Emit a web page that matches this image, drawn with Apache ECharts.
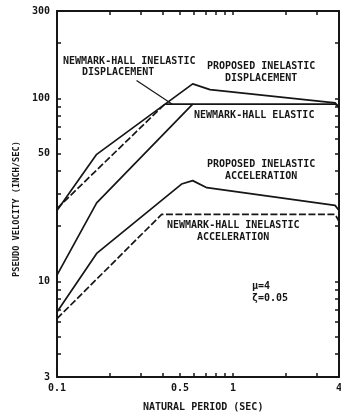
<!DOCTYPE html>
<html>
<head>
<meta charset="utf-8">
<script src="https://cdn.jsdelivr.net/npm/echarts@6/dist/echarts.min.js"></script>
<style>
html,body{margin:0;padding:0;background:#fff;}
#chart{width:341px;height:419px;}
</style>
</head>
<body>
<div id="chart"></div>
<script>
// ---- data (period in sec, pseudo velocity in inch/sec) ----
const propDispT = [0.1, 0.168, 0.59, 0.74, 3.8, 4];
const propDispV = [24.4, 49.4, 120, 111.5, 94.5, 89.6];

const nhDispRiseT = [0.1, 0.41];
const nhDispRiseV = [25, 93];
const nhDispFlatT = [0.41, 0.59];
const nhDispFlatV = [93, 93];

const elasT = [0.1, 0.168, 0.59, 3.8, 4];
const elasV = [10.8, 26.8, 93, 93, 89.6];

const propAccT = [0.1, 0.168, 0.51, 0.59, 0.71, 3.8, 4];
const propAccV = [6.8, 14.2, 34.0, 35.5, 32.5, 26.0, 24.4];

const nhAccT = [0.1, 0.393, 3.8, 4];
const nhAccV = [6.25, 23.2, 23.2, 21.3];

const pointerT = [0.283, 0.45];
const pointerV = [125, 93];

const xTickValues = [0.1,0.2,0.3,0.4,0.5,0.6,0.7,0.8,0.9,1,2,3,4];
const xLabelValues = [0.1, 0.5, 1, 4];
const yTickValues = [3,4,5,6,7,8,9,10,20,30,40,50,60,70,80,90,100,200,300];
const yLabelValues = [3, 10, 50, 100, 300];

const FONT = '"DejaVu Sans Mono", monospace';
const INK = '#161616';

function pairs(t, v){ return t.map((x,i)=>[x, v[i]]); }

const chart = echarts.init(document.getElementById('chart'), null, {renderer:'canvas'});

function xAx(pos, show){
  return {
    type:'log', logBase:10, min:0.1, max:4, position:pos,
    axisLine:{show:true, onZero:false, lineStyle:{color:INK, width:2}},
    axisTick:{show:true, inside:true, length:4, customValues:xTickValues, lineStyle:{color:INK, width:1.5}},
    axisLabel:{show:show, customValues:xLabelValues, margin:6, color:INK,
      fontFamily:FONT, fontWeight:'bold', fontSize:10,
      formatter:v=>String(+v.toPrecision(3))},
    splitLine:{show:false}, minorTick:{show:false}
  };
}
function yAx(pos, show){
  return {
    type:'log', logBase:10, min:3, max:300, position:pos,
    axisLine:{show:true, onZero:false, lineStyle:{color:INK, width:2}},
    axisTick:{show:true, inside:true, length:4, customValues:yTickValues, lineStyle:{color:INK, width:1.5}},
    axisLabel:{show:show, customValues:yLabelValues, margin:7, color:INK,
      fontFamily:FONT, fontWeight:'bold', fontSize:10,
      formatter:v=>String(+v.toPrecision(3))},
    splitLine:{show:false}, minorTick:{show:false}
  };
}

function lineSeries(t, v, dashed){
  return {
    type:'line', data:pairs(t, v), symbol:'none', silent:true,
    xAxisIndex:0, yAxisIndex:0,
    lineStyle:{color:INK, width:1.7, type: dashed ? [7,2.5] : 'solid'},
    animation:false
  };
}

function txt(s, x, y, align, size){
  return {type:'text', left:x, top:y, style:{text:s, fill:INK,
    font:'bold ' + (size || 10) + 'px ' + FONT, textAlign: align || 'left'}};
}

const option = {
  backgroundColor:'#fff',
  animation:false,
  grid:{left:57, right:2, top:11, bottom:42, containLabel:false, outerBoundsMode:'none'},
  xAxis:[xAx('bottom', true), xAx('top', false)],
  yAxis:[yAx('left', true), yAx('right', false)],
  series:[
    lineSeries(propDispT, propDispV, false),
    lineSeries(nhDispRiseT, nhDispRiseV, true),
    lineSeries(nhDispFlatT, nhDispFlatV, false),
    lineSeries(elasT, elasV, false),
    lineSeries(propAccT, propAccV, false),
    lineSeries(nhAccT, nhAccV, true),
    Object.assign(lineSeries(pointerT, pointerV, false), {lineStyle:{color:INK, width:1.2}})
  ],
  graphic:[
    txt('NEWMARK-HALL INELASTIC', 63, 56),
    txt('DISPLACEMENT', 82, 67),
    txt('PROPOSED INELASTIC', 207, 61),
    txt('DISPLACEMENT', 225, 73),
    txt('NEWMARK-HALL ELASTIC', 194, 110),
    txt('PROPOSED INELASTIC', 207, 159),
    txt('ACCELERATION', 225, 171),
    txt('NEWMARK-HALL INELASTIC', 167, 220),
    txt('ACCELERATION', 197, 232),
    txt('\u03bc=4', 252, 281),
    txt('\u03b6=0.05', 252, 293),
    txt('NATURAL PERIOD (SEC)', 143, 402),
    {type:'text', x:12, y:277, rotation:Math.PI/2,
      style:{text:'PSEUDO VELOCITY (INCH/SEC)', fill:INK, font:'bold 8.7px ' + FONT}}
  ]
};
chart.setOption(option);
</script>
</body>
</html>
